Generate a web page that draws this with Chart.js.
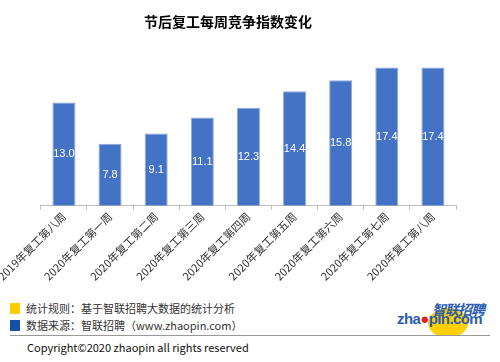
<!DOCTYPE html>
<html>
<head>
<meta charset="utf-8">
<script src="https://cdn.jsdelivr.net/npm/chart.js@4.4.0/dist/chart.umd.min.js"></script>
<style>
  html, body { margin: 0; padding: 0; background: #fff; }
  #wrap { position: relative; width: 500px; height: 362px; overflow: hidden; font-family: "Noto Sans CJK SC", "Noto Sans", sans-serif; }
  #chartBox { position: absolute; left: 0; top: 0; width: 500px; height: 283px; }
  .note { position: absolute; left: 10px; font-size: 11px; color: #333; line-height: 12px; }
  .sq { display: inline-block; width: 10px; height: 11px; vertical-align: -1px; margin-right: 6px; }
  #rule { position: absolute; left: 10px; top: 335px; width: 480px; height: 1px; background: #999; }
  #copy { position: absolute; left: 27px; top: 339px; font-size: 11px; color: #111; }
  #logo { position: absolute; left: 395px; top: 292px; width: 100px; height: 43px; overflow: hidden; }
</style>
</head>
<body>
<div id="wrap">
  <div id="chartBox"><canvas id="c"></canvas></div>
  <div class="note" style="top:302px"><span class="sq" style="background:#ffcc00"></span>统计规则：基于智联招聘大数据的统计分析</div>
  <div class="note" style="top:319px"><span class="sq" style="background:#1750a8"></span>数据来源：智联招聘（www.zhaopin.com）</div>
  <div id="rule"></div>
  <div id="copy">Copyright©2020 zhaopin all rights reserved</div>
  <div id="logo">
    <div style="position:absolute;left:33px;top:16px;width:40px;height:30px;border-radius:50%;background:#ffd000"></div>
    <div style="position:absolute;left:37px;top:7px;font:bold italic 14px 'Noto Sans CJK SC';color:#2a5db0;letter-spacing:-1px">智联招聘</div>
    <div style="position:absolute;left:2px;top:18px;font:bold 15px 'Liberation Sans';color:#2a5db0;letter-spacing:-0.6px">zha<span style="color:#d8231f">●</span>pin.com</div>
  </div>
</div>
<script>
const weeks = ['2019年复工第八周', '2020年复工第一周', '2020年复工第二周', '2020年复工第三周', '2020年复工第四周', '2020年复工第五周', '2020年复工第六周', '2020年复工第七周', '2020年复工第八周']
const indexValues = [13.0, 7.8, 9.1, 11.1, 12.3, 14.4, 15.8, 17.4, 17.4]

// value labels in the middle of each bar
const barLabels = {
  id: 'barLabels',
  afterDatasetsDraw(chart) {
    const ctx = chart.ctx
    const meta = chart.getDatasetMeta(0)
    ctx.save()
    ctx.fillStyle = '#fff'
    ctx.font = '11px "Liberation Sans", sans-serif'
    ctx.textAlign = 'center'
    ctx.textBaseline = 'middle'
    meta.data.forEach((bar, i) => {
      ctx.fillText(indexValues[i].toFixed(1), bar.x, (bar.y + bar.base) / 2)
    })
    ctx.restore()
  }
}

new Chart(document.getElementById('c'), {
  type: 'bar',
  data: {
    labels: weeks,
    datasets: [{ data: indexValues, backgroundColor: '#4472c4', borderColor: '#8faadc', borderWidth: 1, categoryPercentage: 1, barPercentage: 0.5 }]
  },
  options: {
    responsive: true,
    maintainAspectRatio: false,
    animation: false,
    layout: { padding: { left: 0, right: 44, top: 0, bottom: 0 } },
    plugins: {
      legend: { display: false },
      tooltip: { enabled: false },
      title: { display: true, text: '节后复工每周竞争指数变化', color: '#000', font: { family: 'Noto Sans CJK SC', size: 14, weight: 'bold' }, padding: { top: 13, bottom: 17 } }
    },
    scales: {
      x: {
        grid: { display: true, drawOnChartArea: false, drawTicks: true, tickLength: 4, color: '#bfbfbf' },
        border: { color: '#bfbfbf' },
        ticks: { minRotation: 45, maxRotation: 45, color: '#333', font: { family: 'Noto Sans CJK SC', size: 11 }, padding: 0 }
      },
      y: { display: false, min: 0, max: 20 }
    }
  },
  plugins: [barLabels]
})
</script>
</body>
</html>
